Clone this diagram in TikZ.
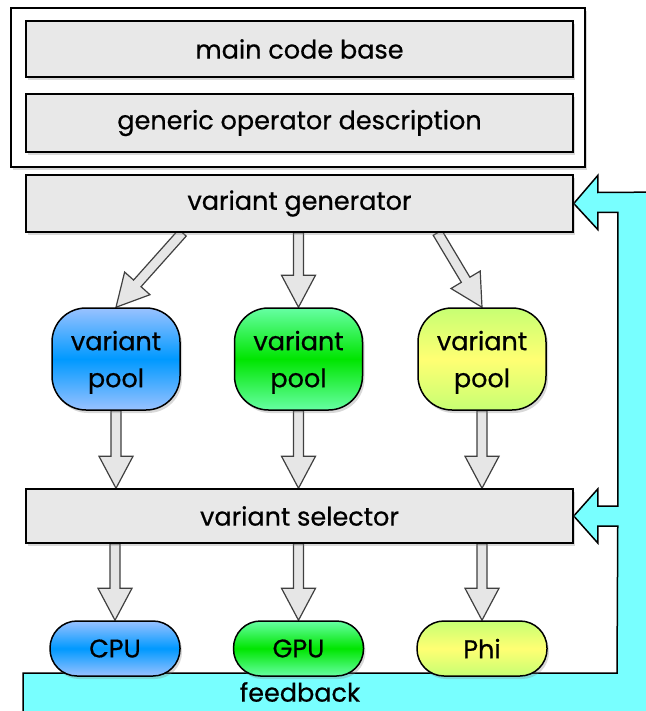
\documentclass[tikz,border=0pt]{standalone}
\usepackage{fontspec}
\setmainfont{Poppins}[FakeBold=0.6]
\usetikzlibrary{calc,shadows,backgrounds}

\definecolor{boxgray}{HTML}{E8E8E8}
\definecolor{arrowgray}{HTML}{E6E6E6}
\definecolor{fbcyan}{HTML}{78FFFF}

\tikzset{
  txt/.style={font=\fontsize{25.5}{37}\selectfont},
  shade/.style={drop shadow={shadow xshift=2pt,shadow yshift=-3pt,opacity=.3}},
  frame/.style={draw,line width=1.5pt,fill=white,minimum width=574pt,minimum height=159pt,shade},
  box/.style={draw,line width=1.5pt,fill=boxgray,minimum width=547pt,txt,shade},
  pool/.style={draw,line width=1.5pt,rounded corners=34pt,minimum width=128pt,minimum height=102pt,align=center,text depth=0pt,txt,shade},
  device/.style={draw,line width=1.5pt,rounded corners=27pt,minimum width=130pt,minimum height=55pt,txt,shade},
  bluepool/.style={top color=cyan!40!blue!40!white,bottom color=cyan!40!blue!40!white,middle color=cyan!60!blue},
  greenpool/.style={top color=green!60!cyan!60!white,bottom color=green!60!cyan!60!white,middle color=green!90!black},
  yellowpool/.style={top color=yellow!60!green!55!white,bottom color=yellow!60!green!55!white,middle color=yellow!55!white},
  arrowbody/.style={draw=black!75,line width=1.2pt,fill=arrowgray,line join=miter},
  feedback/.style={draw,line width=1.5pt,fill=fbcyan}
}

\newcommand{\fatarrow}[2]{%
  \coordinate (hb) at ($(#2)!32pt!(#1)$);
  \draw[arrowbody] ($(#1)!5pt!90:(#2)$) -- ($(hb)!5pt!-90:(#1)$) -- ($(hb)!17pt!-90:(#1)$) -- (#2)
    -- ($(hb)!17pt!90:(#1)$) -- ($(hb)!5pt!90:(#1)$) -- ($(#1)!5pt!-90:(#2)$) -- cycle;}

\begin{document}
\begin{tikzpicture}[x=1pt,y=-1pt]
\useasboundingbox (0,0) rectangle (645,711);

\node[frame] (outer) at (298,87.5) {};
\node[box,minimum height=56pt] (base) at (299.5,49) {main code base};
\node[box,minimum height=58pt] (desc) at (299.5,123) {generic operator description};
\node[box,minimum height=57pt] (gen) at (299.5,203.5) {variant generator};

\node[pool,bluepool] (poolA) at (116,359) {variant\\pool};
\node[pool,greenpool] (poolB) at (298.5,359) {variant\\pool};
\node[pool,yellowpool] (poolC) at (482,359) {variant\\pool};

\node[box,minimum height=54pt] (sel) at (299.5,516) {variant selector};

\node[device,bluepool] (cpu) at (115,648.5) {CPU};
\node[device,greenpool] (gpu) at (298.5,648.5) {GPU};
\node[device,yellowpool] (phi) at (482,648.5) {Phi};

\node[txt] (fb) at (300,692) {feedback};

\begin{pgfonlayer}{background}
\fill[white] (0,0) rectangle (645,711);
\draw[feedback] (23,730) -- (23,673) -- (617,673) -- ($(sel.east)+(44,10)$) -- ($(sel.east)+(24,10)$)
  -- ($(sel.east)+(24,27)$) -- (sel.east) -- ($(sel.east)+(24,-27)$) -- ($(sel.east)+(24,-10)$)
  -- ($(sel.east)+(44,-10)$) -- ($(gen.east)+(44,9)$) -- ($(gen.east)+(24,9)$) -- ($(gen.east)+(24,26)$)
  -- (gen.east) -- ($(gen.east)+(24,-28)$) -- ($(gen.east)+(24,-11)$) -- (670,192) -- (670,730) -- cycle;

\coordinate (gA) at ($(gen.south)+(-117,0)$);
\coordinate (gB) at (poolB.north |- gen.south);
\coordinate (gC) at ($(gen.south)+(138,0)$);
\fatarrow{gA}{poolA.north}
\fatarrow{gB}{poolB.north}
\fatarrow{gC}{poolC.north}

\coordinate (sA) at (poolA.south |- sel.north);
\coordinate (sB) at (poolB.south |- sel.north);
\coordinate (sC) at (poolC.south |- sel.north);
\fatarrow{poolA.south}{sA}
\fatarrow{poolB.south}{sB}
\fatarrow{poolC.south}{sC}

\coordinate (dA) at (cpu.north |- sel.south);
\coordinate (dB) at (gpu.north |- sel.south);
\coordinate (dC) at (phi.north |- sel.south);
\fatarrow{dA}{cpu.north}
\fatarrow{dB}{gpu.north}
\fatarrow{dC}{phi.north}
\end{pgfonlayer}
\end{tikzpicture}
\end{document}
